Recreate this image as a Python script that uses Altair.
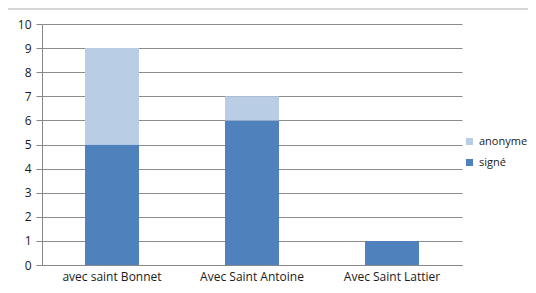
import altair as alt
import pandas as pd

categories = ["avec saint Bonnet", "Avec Saint Antoine", "Avec Saint Lattier"]
signe = [5, 6, 1]
anonyme = [4, 1, 0]
series = ["anonyme", "signé"]
colors = ["#B9CDE5", "#4F81BD"]
y_ticks = [0, 1, 2, 3, 4, 5, 6, 7, 8, 9, 10]

rows = []
for c, s, a in zip(categories, signe, anonyme):
    rows.append({"cat": c, "serie": "signé", "val": s, "order": 0})
    rows.append({"cat": c, "serie": "anonyme", "val": a, "order": 1})
df = pd.DataFrame(rows)

font = "Open Sans"

bars = alt.Chart(df).mark_bar(size=54).encode(
    x=alt.X("cat:N", sort=categories, title=None,
            scale=alt.Scale(paddingInner=0, paddingOuter=0),
            axis=alt.Axis(labelAngle=0, ticks=False, domainColor="#888888",
                          labelFont=font, labelFontSize=12, labelColor="#1a1a1a",
                          labelPadding=6)),
    y=alt.Y("val:Q", stack="zero", title=None,
            scale=alt.Scale(domain=[0, 10], nice=False),
            axis=alt.Axis(values=y_ticks, gridColor="#8c8c8c", labelOverlap=False,
                          domainColor="#888888", tickColor="#888888", tickSize=6,
                          labelFont=font, labelFontSize=12, labelColor="#1a1a1a",
                          labelPadding=5)),
    color=alt.Color("serie:N", scale=alt.Scale(domain=series, range=colors),
                    legend=alt.Legend(title=None, symbolType="square", symbolSize=50,
                                      orient="none", legendX=422, legendY=112,
                                      labelFont=font, labelFontSize=11, labelColor="#1a1a1a",
                                      rowPadding=9, padding=0, labelOffset=4,
                                      symbolStrokeWidth=0)),
    order=alt.Order("order:Q"),
)

border_top = alt.Chart(pd.DataFrame({"a": [0]})).mark_rule(color="#c8c8c8", strokeWidth=1.5, clip=False).encode(
    x=alt.value(-35), x2=alt.value(486), y=alt.value(-15)
)
border_left = alt.Chart(pd.DataFrame({"a": [0]})).mark_rule(color="#c8c8c8", strokeWidth=1.5, clip=False).encode(
    x=alt.value(-35), y=alt.value(-15), y2=alt.value(258)
)

chart = alt.layer(bars, border_top, border_left).properties(
    width=420, height=241,
    autosize=alt.AutoSizeParams(type="none"),
    padding={"left": 34, "top": 16, "right": 66, "bottom": 18},
).configure_view(stroke=None)

chart.save("out.html", embed_options={"renderer": "svg", "actions": False})
